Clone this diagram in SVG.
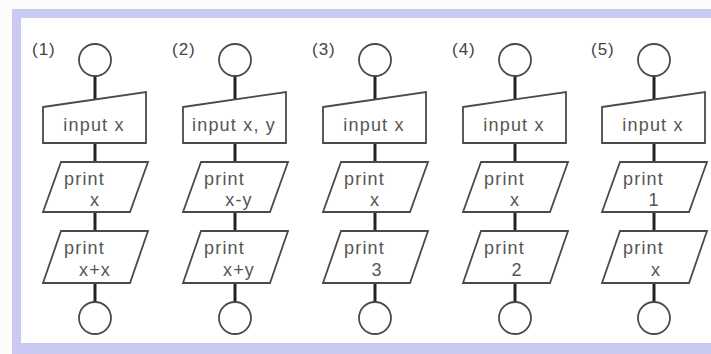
<svg xmlns="http://www.w3.org/2000/svg" width="711" height="354" viewBox="0 0 711 354">
<style>
.sh{fill:#fff;stroke:#4a4a4a;stroke-width:1.8}
.cn{stroke:#222;stroke-width:3}
.t{font-family:"Liberation Sans",Arial,sans-serif;font-size:18px;letter-spacing:1.2px;fill:#555}
.lb{font-family:"Liberation Sans",Arial,sans-serif;font-size:17px;letter-spacing:1px;fill:#444}
.m{text-anchor:middle}
</style>
<rect x="0" y="0" width="711" height="354" fill="#fcfcfc"/>
<rect x="12" y="9" width="710" height="345" fill="#c9c9f2"/>
<rect x="21" y="18" width="700" height="325" fill="#fff"/>
<defs>
<g id="chartbase">
<circle class="sh" cx="0" cy="60" r="16"/>
<path class="sh" d="M-52,107 L51,92 L51,143 L-52,143 Z"/>
<path class="sh" d="M-34,162 L53,162 L35,212 L-52,212 Z"/>
<path class="sh" d="M-34,231 L53,231 L35,283 L-52,283 Z"/>
<circle class="sh" cx="0" cy="318" r="16"/>
</g>
</defs>
<g id="connectors">
<g transform="translate(95,0)"><line class="cn" x1="0" y1="76" x2="0" y2="99"/><line class="cn" x1="0" y1="143" x2="0" y2="162"/><line class="cn" x1="0" y1="212" x2="0" y2="231"/><line class="cn" x1="0" y1="283" x2="0" y2="302"/></g>
<g transform="translate(235,0)"><line class="cn" x1="0" y1="76" x2="0" y2="99"/><line class="cn" x1="0" y1="143" x2="0" y2="162"/><line class="cn" x1="0" y1="212" x2="0" y2="231"/><line class="cn" x1="0" y1="283" x2="0" y2="302"/></g>
<g transform="translate(375,0)"><line class="cn" x1="0" y1="76" x2="0" y2="99"/><line class="cn" x1="0" y1="143" x2="0" y2="162"/><line class="cn" x1="0" y1="212" x2="0" y2="231"/><line class="cn" x1="0" y1="283" x2="0" y2="302"/></g>
<g transform="translate(515,0)"><line class="cn" x1="0" y1="76" x2="0" y2="99"/><line class="cn" x1="0" y1="143" x2="0" y2="162"/><line class="cn" x1="0" y1="212" x2="0" y2="231"/><line class="cn" x1="0" y1="283" x2="0" y2="302"/></g>
<g transform="translate(654,0)"><line class="cn" x1="0" y1="76" x2="0" y2="99"/><line class="cn" x1="0" y1="143" x2="0" y2="162"/><line class="cn" x1="0" y1="212" x2="0" y2="231"/><line class="cn" x1="0" y1="283" x2="0" y2="302"/></g>
</g>
<g id="chart1" transform="translate(95,0)">
<use href="#chartbase"/>
<text class="lb" x="-63" y="55">(1)</text>
<text class="t m" x="-1" y="131">input x</text>
<text class="t" x="-31" y="185">print</text>
<text class="t m" x="0" y="206">x</text>
<text class="t" x="-31" y="254">print</text>
<text class="t m" x="0" y="276">x+x</text>
</g>
<g id="chart2" transform="translate(235,0)">
<use href="#chartbase"/>
<text class="lb" x="-63" y="55">(2)</text>
<text class="t m" x="-1" y="131">input x, y</text>
<text class="t" x="-31" y="185">print</text>
<text class="t m" x="4" y="206">x-y</text>
<text class="t" x="-31" y="254">print</text>
<text class="t m" x="4" y="276">x+y</text>
</g>
<g id="chart3" transform="translate(375,0)">
<use href="#chartbase"/>
<text class="lb" x="-63" y="55">(3)</text>
<text class="t m" x="-1" y="131">input x</text>
<text class="t" x="-31" y="185">print</text>
<text class="t m" x="0" y="206">x</text>
<text class="t" x="-31" y="254">print</text>
<text class="t m" x="2" y="276">3</text>
</g>
<g id="chart4" transform="translate(515,0)">
<use href="#chartbase"/>
<text class="lb" x="-63" y="55">(4)</text>
<text class="t m" x="-1" y="131">input x</text>
<text class="t" x="-31" y="185">print</text>
<text class="t m" x="0" y="206">x</text>
<text class="t" x="-31" y="254">print</text>
<text class="t m" x="2" y="276">2</text>
</g>
<g id="chart5" transform="translate(654,0)">
<use href="#chartbase"/>
<text class="lb" x="-63" y="55">(5)</text>
<text class="t m" x="-1" y="131">input x</text>
<text class="t" x="-31" y="185">print</text>
<text class="t m" x="0" y="206">1</text>
<text class="t" x="-31" y="254">print</text>
<text class="t m" x="2" y="276">x</text>
</g>
</svg>
